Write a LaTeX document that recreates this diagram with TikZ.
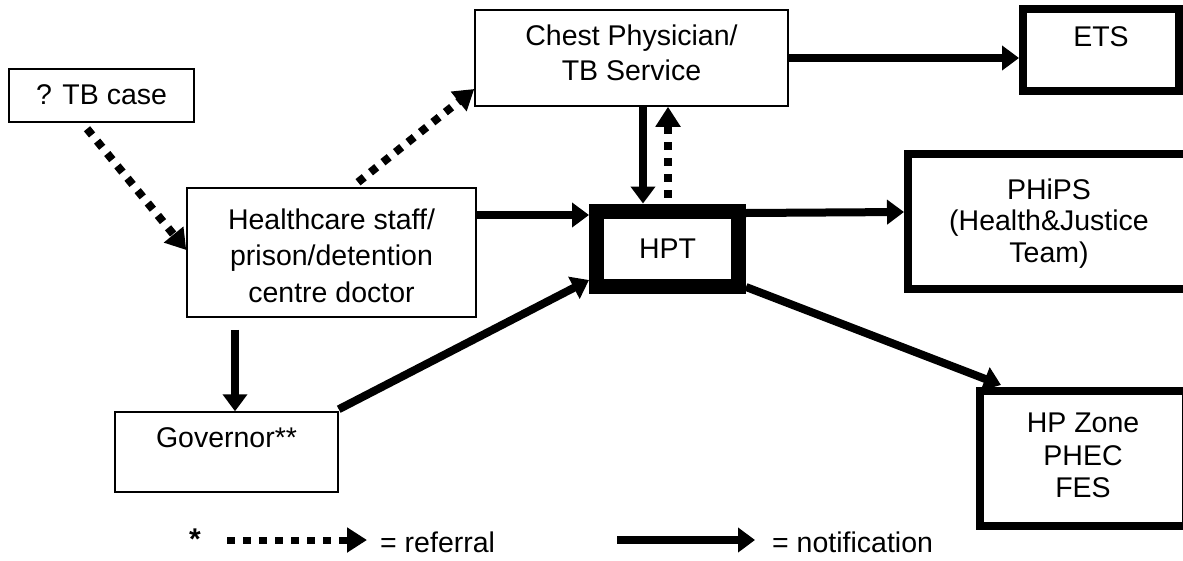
\documentclass[tikz,border=0pt]{standalone}
\usepackage{fontspec}
\setmainfont{Liberation Sans}
\usetikzlibrary{arrows.meta}
\newcommand\btext[3]{\fontsize{28.5}{#2}\selectfont\raisebox{#1}[\height][\depth]{\begin{tabular}{@{}c@{}}#3\end{tabular}}}
\begin{document}
\begin{tikzpicture}[x=1pt,y=-1pt,
  every node/.style={font=\fontsize{28.5}{34}\selectfont, inner sep=0pt},
  thinbox/.style={draw, line width=1.5pt},
  thickbox/.style={draw, line width=8pt},
  hptbox/.style={draw, line width=15pt},
  notif/.style={line width=8pt, -{Triangle[length=17pt,width=24pt]}},
  refer/.style={line width=8pt, dash pattern=on 8pt off 8pt, -{Triangle[length=20pt,width=24pt]}}]
\useasboundingbox (0,0) rectangle (1183,560);

\node[thinbox, minimum width=185pt, minimum height=53pt] (tb) at (101.5,95.5) {\btext{-2.5pt}{34pt}{? TB case}};
\node[thinbox, minimum width=289pt, minimum height=129pt] (hc) at (331.5,252.5) {\btext{-6pt}{36.5pt}{Healthcare staff/\\prison/detention\\centre doctor}};
\node[thinbox, minimum width=313pt, minimum height=96pt] (cp) at (631.5,58) {\btext{2pt}{35pt}{Chest Physician/\\TB Service}};
\node[hptbox, minimum width=142pt, minimum height=75.5pt] (hpt) at (667.5,248.75) {HPT};
\node[thickbox, minimum width=156pt, minimum height=82pt] (ets) at (1101,50) {\btext{10.5pt}{34pt}{ETS}};
\node[thickbox, minimum width=282pt, minimum height=135pt] (ph) at (1049,221.5) {\btext{-3pt}{31.5pt}{PHiPS\\(Health\&Justice\\Team)}};
\node[thickbox, minimum width=206pt, minimum height=135pt] (hz) at (1083,458.5) {\btext{0pt}{32.5pt}{HP Zone\\PHEC\\FES}};
\node[thinbox, minimum width=223pt, minimum height=80pt] (gov) at (226.5,452) {\btext{11pt}{34pt}{Governor**}};

\draw[refer] ([xshift=-14.5pt,yshift=-6pt]tb.south) -- ([yshift=2.5pt]hc.west);
\draw[refer] ([xshift=26.5pt,yshift=5pt]hc.north) -- ([yshift=-31pt]cp.west);
\draw[notif] ([xshift=11.5pt]cp.south) -- ([xshift=-24.5pt]hpt.north);
\draw[refer] ([xshift=0.5pt,yshift=6pt]hpt.north) -- ([xshift=36.5pt]cp.south);
\draw[notif] ([yshift=37.5pt]hc.east) -- ([yshift=33.75pt]hpt.west);
\draw[notif] (cp.east) -- (cp.east -| ets.west);
\draw[notif] ([yshift=35.75pt]hpt.east) -- ([yshift=9.5pt]ph.west);
\draw[notif] ([yshift=7pt]hpt.south east) -- ([xshift=25pt,yshift=2pt]hz.north west);
\draw[notif] ([xshift=-96.5pt,yshift=-12pt]hc.south) -- ([xshift=8.5pt]gov.north);
\draw[notif] ([yshift=2pt]gov.north east) -- ([yshift=14pt]hpt.south west);

\node[anchor=base, font=\fontsize{30}{34}\selectfont\bfseries] (star) at (195,549) {*};
\coordinate (r1) at (227,540);
\coordinate (r2) at (367,540);
\draw[refer, line width=7pt] (r1) -- (r2);
\node[anchor=base west] (rl) at (380,552) {= referral};
\coordinate (n1) at (617,540);
\coordinate (n2) at (755,540);
\draw[notif] (n1) -- (n2);
\node[anchor=base west] (nl) at (772,552) {= notification};
\end{tikzpicture}
\end{document}
